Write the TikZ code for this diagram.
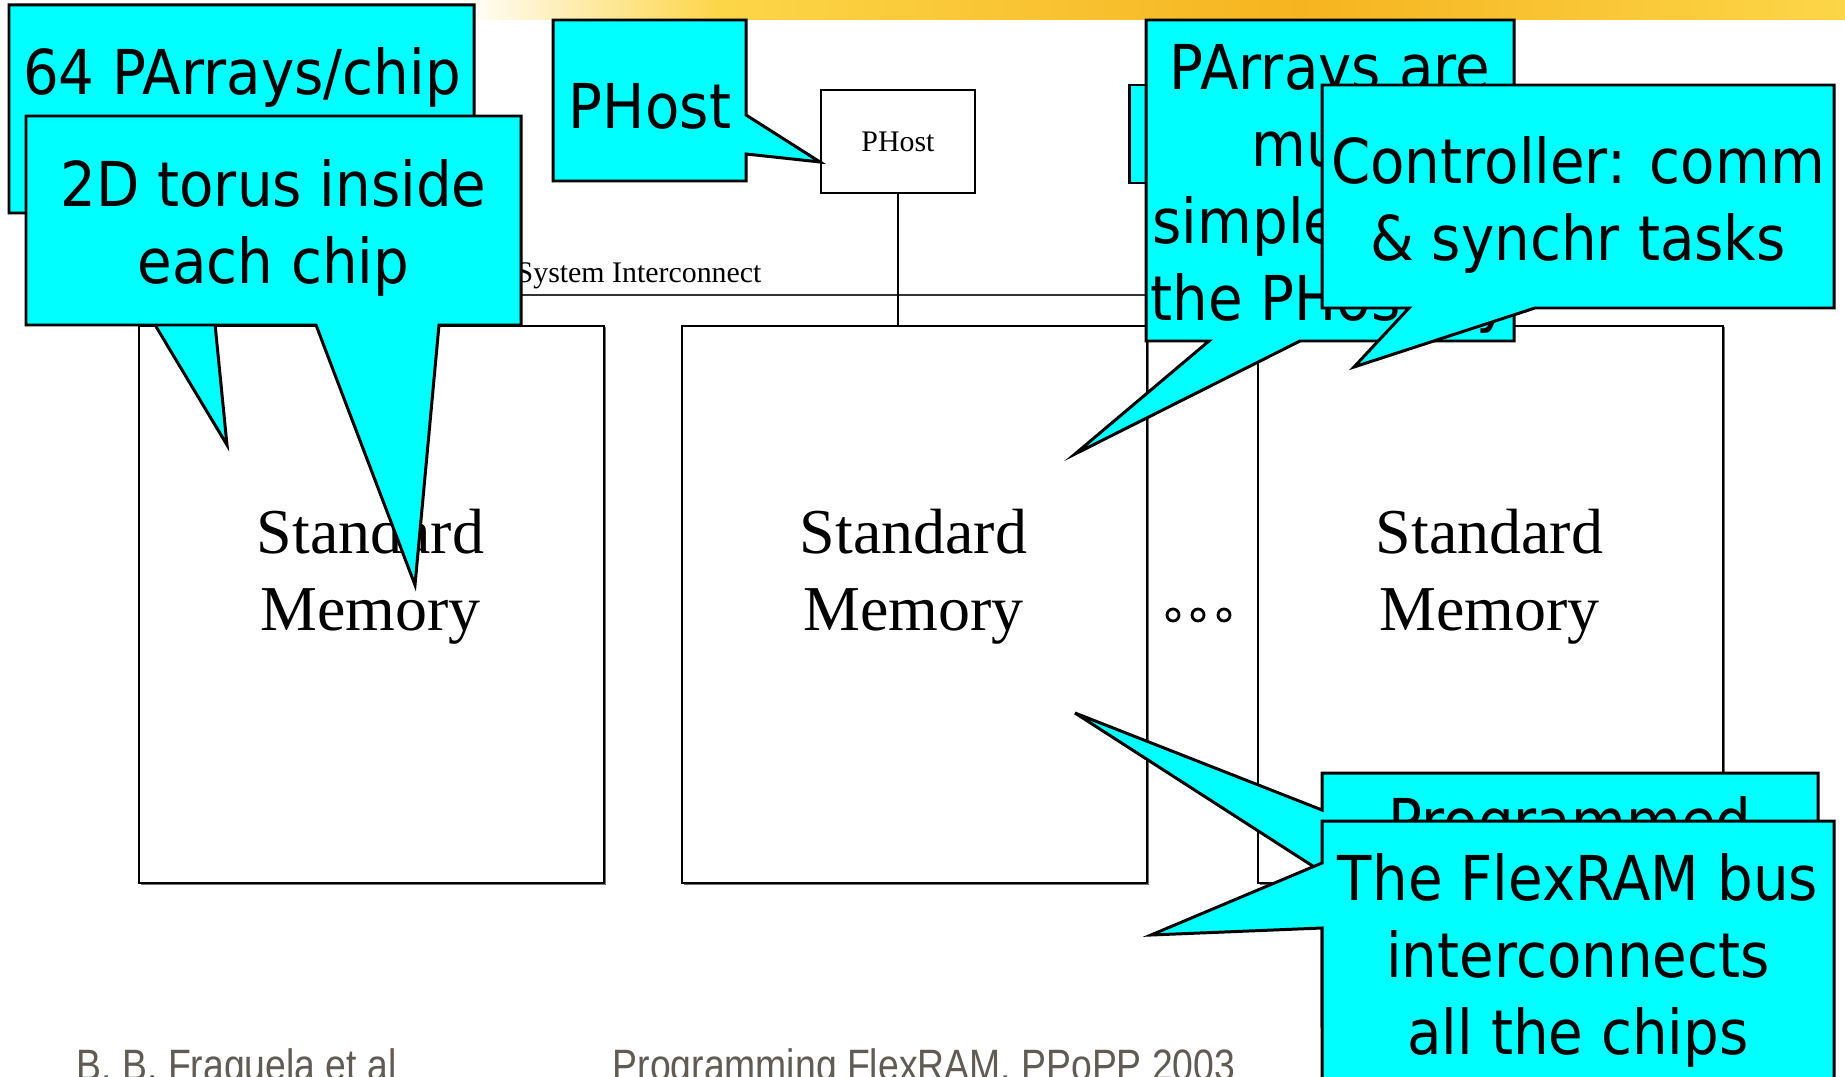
\documentclass[tikz,border=0pt]{standalone}
\usepackage{fontspec}
\setmainfont{Liberation Serif}
\newfontfamily\callfont[FakeStretch=0.91]{DejaVu Sans}
\newfontfamily\footfont[FakeStretch=0.85]{Liberation Sans}
\definecolor{callcyan}{RGB}{0,255,255}
\definecolor{footgray}{RGB}{96,92,84}
\definecolor{bandyellow}{RGB}{252,214,72}
\definecolor{bandorange}{RGB}{246,180,32}
\newcommand{\stdmem}{Standard\\Memory}

\begin{document}
\begin{tikzpicture}[
        callout/.style={draw=black, fill=callcyan, line width=0.85pt, line join=miter},
        calltext/.style={align=center, inner sep=0pt, font=\callfont\fontsize{17.6}{21.9}\selectfont},
        memtext/.style={align=center, inner sep=0pt, font=\fontsize{18.2}{21.9}\selectfont},
        smalltext/.style={inner sep=0pt, font=\fontsize{8.5}{10}\selectfont},
        foottext/.style={anchor=base west, inner sep=0pt, text=footgray, font=\footfont\fontsize{12.5}{14}\selectfont},
        membox/.style={draw=black, fill=white, line width=0.6pt, minimum width=4.65cm, minimum height=5.57cm, inner sep=0pt}]
    \useasboundingbox (0,0) rectangle (18.45,10.76);
    \clip (0,0) rectangle (18.45,10.76);
    \fill[white] (0,0) rectangle (18.45,10.76);
    \shade[left color=white, right color=bandyellow] (4.6,10.56) rectangle (7.2,10.76);
    \shade[left color=bandyellow, right color=bandorange] (7.2,10.56) rectangle (13,10.76);
    \shade[left color=bandorange, right color=bandyellow] (13,10.56) rectangle (18.45,10.76);

    \draw[line width=0.6pt, black!80] (1.5,7.81)--(17.0,7.81);
    \node[smalltext, anchor=base west] (bus) at (5.16,7.93) {System Interconnect};
    \node[draw, line width=0.6pt, minimum width=1.54cm, minimum height=1.03cm, smalltext] (phost) at (8.98,9.345) {PHost};
    \foreach \x/\n in {1.38/1,6.81/2,12.57/3}{
        \fill[black!55] (\x+0.025,1.915) rectangle (\x+4.675,7.485);
        \node[membox, anchor=north west] (mem\n) at (\x,7.51) {};
        \node[memtext] (memtext\n) at (\x+2.325,4.99) {\stdmem};
    }
    \draw[line width=0.6pt] (phost.south)--(phost.south |- mem2.north);
    \foreach \x in {11.73,11.98,12.24}{
        \draw[line width=0.8pt] (\x,4.61) circle (0.06);
    }

    \draw[callout] (0.09,10.71)--(4.74,10.71)--(4.74,8.63)--(2.04,8.63)--(2.27,6.31)--(0.88,8.63)--(0.09,8.63)--cycle;
    \node[calltext] (perchip) at (2.42,9.99) {64 PArrays/chip};
    \draw[callout] (0.26,9.60)--(5.21,9.60)--(5.21,7.51)--(4.39,7.51)--(4.15,4.91)--(3.16,7.51)--(0.26,7.51)--cycle;
    \node[calltext] (torus) at (2.735,8.48) {2D torus inside\\each chip};
    \draw[callout] (5.53,10.56)--(7.46,10.56)--(7.46,9.61)--(8.20,9.14)--(7.46,9.22)--(7.46,8.95)--(5.53,8.95)--cycle;
    \node[calltext] (hostnote) at (6.50,9.70) {PHost};

    \draw[callout] (11.29,9.91) rectangle (16.0,8.93);
    \draw[callout] (11.46,10.56)--(15.14,10.56)--(15.14,7.35)--(13.00,7.35)--(10.75,6.22)--(12.09,7.35)--(11.46,7.35)--cycle;
    \node[calltext] (simpler) at (13.30,8.87) {PArrays are\\much\\simpler than\\the PHost by};
    \draw[callout] (13.22,9.91)--(18.34,9.91)--(18.34,7.68)--(15.35,7.68)--(13.54,7.09)--(14.09,7.68)--(13.22,7.68)--cycle;
    \node[calltext] (ctrl) at (15.78,8.71) {Controller: comm\\\& synchr tasks};

    \draw[callout] (13.22,3.03)--(18.18,3.03)--(18.18,0.5)--(13.22,0.5)--(13.22,2.04)--(10.75,3.63)--(13.22,2.66)--cycle;
    \node[calltext, anchor=base] (prog) at (15.70,2.33) {Programmed};
    \draw[callout] (13.22,2.55)--(18.34,2.55)--(18.34,-0.2)--(13.22,-0.2)--(13.22,1.48)--(11.51,1.41)--(13.22,2.13)--cycle;
    \node[calltext] (flexbus) at (15.78,1.16) {The FlexRAM bus\\interconnects\\all the chips};

    \node[foottext] (authors) at (0.76,-0.04) {B. B. Fraguela et al};
    \node[foottext] (venue) at (6.12,-0.04) {Programming FlexRAM, PPoPP 2003};
\end{tikzpicture}
\end{document}
